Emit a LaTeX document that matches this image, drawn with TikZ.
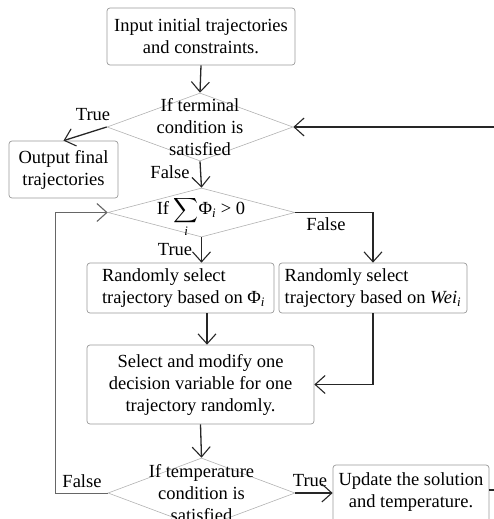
\documentclass[tikz,border=0pt]{standalone}
\usepackage{amsmath}
\usepackage{fontspec}
\setmainfont{Liberation Serif}
\usetikzlibrary{shapes.geometric,arrows.meta}
\begin{document}
\begin{tikzpicture}[x=1pt,y=-1pt,
  txt/.style={font=\fontsize{18.5}{22}\selectfont, align=center, inner sep=0pt, text=black},
  box/.style={draw=black!40, line width=0.7pt, rounded corners=3pt, inner sep=0pt, font=\fontsize{18.5}{22}\selectfont, align=center},
  dia/.style={draw=black!30, line width=0.6pt, diamond, inner sep=0pt},
  conn/.style={draw=black!85, line width=1.3pt, -{Straight Barb[length=10pt,width=18pt,line width=1.1pt]}},
  lbl/.style={font=\fontsize{18.5}{22}\selectfont, inner sep=0pt}]
\useasboundingbox (0,0) rectangle (494,519);
\clip (0,0) rectangle (494,519);
% boxes
\node[box, minimum width=188pt, minimum height=57pt] (b1) at (201,36.5) {Input initial trajectories\\and constraints.};
\node[dia, minimum width=186pt, minimum height=68pt] (d1) at (200,127) {};
\node[txt] (d1t) at (200,127) {If terminal\\condition is\\satisfied};
\node[box, minimum width=109pt, minimum height=57pt] (b0) at (63.5,169.5) {Output final\\trajectories};
\node[dia, minimum width=187pt, minimum height=49pt] (d2) at (201.5,212.5) {};
\node[txt] (d2t) at (201,217) {If $\displaystyle\sum_{\textit{i}}$Φ\textsubscript{\itshape i} > 0};
\node[box, minimum width=187pt, minimum height=50pt, align=left] (b2) at (180.5,288) {\hspace*{6pt}Randomly select\\\hspace*{6pt}trajectory based on Φ\textsubscript{\itshape i}};
\node[box, minimum width=188pt, minimum height=50pt, align=left] (b3) at (373,288) {Randomly select\\trajectory based on {\itshape Wei}\textsubscript{\itshape i}};
\node[box, minimum width=227pt, minimum height=79pt] (b4) at (200.5,384.5) {Select and modify one\\decision variable for one\\trajectory randomly.};
\node[dia, minimum width=187pt, minimum height=70pt] (d3) at (201.5,493) {};
\node[txt] (d3t) at (201.5,493) {If temperature\\condition is\\satisfied};
\node[box, minimum width=156pt, minimum height=80pt] (up) at (411,505) {};
\node[txt] (upt) at (411,492) {Update the solution\\and temperature.};
% labels
\node[lbl] (l1) at (93,115) {True};
\node[lbl] (l2) at (170,172) {False};
\node[lbl] (l3) at (326,224) {False};
\node[lbl] (l4) at (175,250) {True};
\node[lbl] (l5) at (82,481) {False};
\node[lbl] (l6) at (310,481) {True};
% connectors
\coordinate (fr) at (505,490);
\draw[conn] (b1.south) -- (d1.north);
\draw[conn] (d1.west) -- (b0.north);
\draw[conn] (d1.south) -- (d2.north);
\draw[conn] (d2.south) -- (d2.south |- b2.north);
\draw[conn] (d2.east) -- (d2.east -| b3.north) -- (b3.north);
\draw[conn] ([xshift=26.5pt]b2.south) -- ([xshift=6.5pt]b4.north);
\draw[conn] (b3.south) -- (b3.south |- b4.east) -- (b4.east);
\draw[conn] (b4.south) -- (d3.north);
\draw[conn] (d3.east) -- (d3.east -| up.west);
\draw[conn, draw=black!60, line width=1pt] (d3.west) -- (55,493) -- (55,212.5) -- (d2.west);
\draw[conn] (up.east |- fr) -- (fr) -- (fr |- d1.east) -- (d1.east);
\end{tikzpicture}
\end{document}
